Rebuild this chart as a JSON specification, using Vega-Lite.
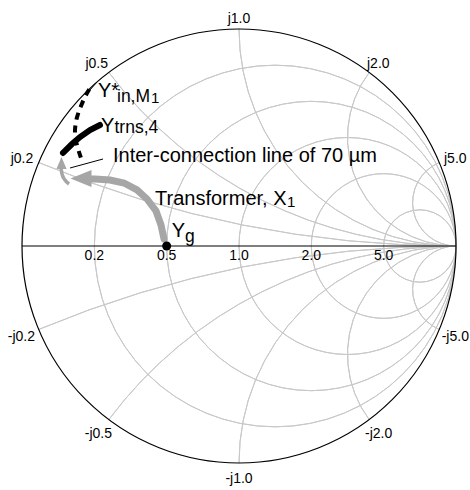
{
  "$schema": "https://vega.github.io/schema/vega-lite/v6.json",
  "width": 434,
  "height": 434,
  "autosize": {"type": "none"},
  "padding": {"left": 22, "top": 29, "right": 14, "bottom": 27},
  "background": "white",
  "config": {"view": {"stroke": null}},
  "datasets": {
    "grid": [
      {"cu": 0.1667, "cv": 0, "rad": 0.8333, "t1": 0, "t2": 360},
      {"cu": 0.3333, "cv": 0, "rad": 0.6667, "t1": 0, "t2": 360},
      {"cu": 0.5, "cv": 0, "rad": 0.5, "t1": 0, "t2": 360},
      {"cu": 0.6667, "cv": 0, "rad": 0.3333, "t1": 0, "t2": 360},
      {"cu": 0.8333, "cv": 0, "rad": 0.1667, "t1": 0, "t2": 360},
      {"cu": 1, "cv": 5, "rad": 5, "t1": 180, "t2": 202.62},
      {"cu": 1, "cv": 2, "rad": 2, "t1": 180, "t2": 233.13},
      {"cu": 1, "cv": 1, "rad": 1, "t1": 180, "t2": 270},
      {"cu": 1, "cv": 0.5, "rad": 0.5, "t1": 180, "t2": 306.87},
      {"cu": 1, "cv": 0.2, "rad": 0.2, "t1": 180, "t2": 337.38},
      {"cu": 1, "cv": -5, "rad": 5, "t1": -22.62, "t2": 0},
      {"cu": 1, "cv": -2, "rad": 2, "t1": -53.13, "t2": 0},
      {"cu": 1, "cv": -1, "rad": 1, "t1": -90, "t2": 0},
      {"cu": 1, "cv": -0.5, "rad": 0.5, "t1": -126.87, "t2": 0},
      {"cu": 1, "cv": -0.2, "rad": 0.2, "t1": -157.38, "t2": 0}
    ],
    "boundary": [{"cu": 0, "cv": 0, "rad": 1, "t1": 0, "t2": 360}],
    "axisline": [{"u1": -1, "u2": 1, "v": 0}],
    "transformer": [
      {"i": 0, "u": -0.3456, "v": 0.0323},
      {"i": 1, "u": -0.3594, "v": 0.0968},
      {"i": 2, "u": -0.3825, "v": 0.1613},
      {"i": 3, "u": -0.424, "v": 0.2166},
      {"i": 4, "u": -0.47, "v": 0.2581},
      {"i": 5, "u": -0.53, "v": 0.2903},
      {"i": 6, "u": -0.5945, "v": 0.3041},
      {"i": 7, "u": -0.6636, "v": 0.3088},
      {"i": 8, "u": -0.7051, "v": 0.3088}
    ],
    "transformerHead": [{"u": -0.7281, "v": 0.3111}],
    "interconn": [
      {"i": 0, "u": -0.7834, "v": 0.2857},
      {"i": 1, "u": -0.8018, "v": 0.3041},
      {"i": 2, "u": -0.8157, "v": 0.3318},
      {"i": 3, "u": -0.8203, "v": 0.3594}
    ],
    "interconnHead": [{"u": -0.818, "v": 0.3825}],
    "ytrns": [
      {"i": 0, "u": -0.8111, "v": 0.4286},
      {"i": 1, "u": -0.7696, "v": 0.47},
      {"i": 2, "u": -0.7327, "v": 0.5023},
      {"i": 3, "u": -0.6866, "v": 0.5346},
      {"i": 4, "u": -0.6406, "v": 0.5576}
    ],
    "yin": [
      {"i": 0, "u": -0.69, "v": 0.722},
      {"i": 1, "u": -0.7097, "v": 0.6866},
      {"i": 2, "u": -0.7281, "v": 0.6452},
      {"i": 3, "u": -0.7419, "v": 0.6083},
      {"i": 4, "u": -0.7512, "v": 0.5714},
      {"i": 5, "u": -0.7558, "v": 0.5346},
      {"i": 6, "u": -0.7558, "v": 0.5023},
      {"i": 7, "u": -0.7465, "v": 0.4654},
      {"i": 8, "u": -0.7373, "v": 0.4332},
      {"i": 9, "u": -0.7281, "v": 0.4055}
    ],
    "leaders": [
      {"k": "a", "i": 0, "u": -0.7788, "v": 0.3594},
      {"k": "a", "i": 1, "u": -0.6267, "v": 0.4009},
      {"k": "b", "i": 0, "u": -0.6866, "v": 0.7189},
      {"k": "b", "i": 1, "u": -0.6544, "v": 0.7558}
    ],
    "yg": [{"u": -0.3333, "v": 0}],
    "ticksCenter": [
      {"u": 0, "v": 1.029, "label": "j1.0"},
      {"u": 0, "v": -1.0922, "label": "-j1.0"},
      {"u": -0.6667, "v": -0.0668, "label": "0.2"},
      {"u": -0.3333, "v": -0.0668, "label": "0.5"},
      {"u": 0, "v": -0.0668, "label": "1.0"},
      {"u": 0.3333, "v": -0.0668, "label": "2.0"},
      {"u": 0.6667, "v": -0.0668, "label": "5.0"}
    ],
    "ticksRight": [
      {"u": -0.6037, "v": 0.8203, "label": "j0.5"},
      {"u": -0.9479, "v": 0.3825, "label": "j0.2"},
      {"u": -0.9401, "v": -0.4378, "label": "-j0.2"},
      {"u": -0.5853, "v": -0.8848, "label": "-j0.5"}
    ],
    "ticksLeft": [
      {"u": 0.5899, "v": 0.8203, "label": "j2.0"},
      {"u": 0.9447, "v": 0.3825, "label": "j5.0"},
      {"u": 0.9341, "v": -0.4378, "label": "-j5.0"},
      {"u": 0.5806, "v": -0.8848, "label": "-j2.0"}
    ],
    "notes": [
      {"u": -0.6498, "v": 0.6866, "label": "Y*", "part": "main"},
      {"u": -0.5622, "v": 0.665, "label": "in,M", "part": "sub"},
      {"u": -0.4055, "v": 0.6576, "label": "1", "part": "sub2"},
      {"u": -0.6359, "v": 0.5267, "label": "Y", "part": "main"},
      {"u": -0.5737, "v": 0.5207, "label": "trns,4", "part": "sub"},
      {"u": -0.5806, "v": 0.3871, "label": "Inter-connection line of 70 µm", "part": "main"},
      {"u": -0.3871, "v": 0.1889, "label": "Transformer, X", "part": "main"},
      {"u": 0.2212, "v": 0.1797, "label": "1", "part": "sub2"},
      {"u": -0.3101, "v": 0.0429, "label": "Y", "part": "main"},
      {"u": -0.2488, "v": 0.0207, "label": "g", "part": "sub"}
    ]
  },
  "layer": [
    {
      "data": {"name": "grid"},
      "mark": {"type": "arc", "filled": false, "color": "#c8c8c8", "strokeWidth": 1},
      "encoding": {
        "x": {"field": "cu", "type": "quantitative", "scale": {"domain": [-1, 1], "nice": false, "zero": false}, "axis": null},
        "y": {"field": "cv", "type": "quantitative", "scale": {"domain": [-1, 1], "nice": false, "zero": false}, "axis": null},
        "radius": {"field": "rad", "type": "quantitative", "stack": null, "scale": {"type": "linear", "domain": [0, 1], "range": [0, 217], "zero": true, "nice": false}},
        "radius2": {"field": "rad"},
        "theta": {"field": "t1", "type": "quantitative", "stack": null, "scale": {"type": "linear", "domain": [0, 360], "range": [0, 6.283185307], "zero": false, "nice": false}},
        "theta2": {"field": "t2"}
      }
    },
    {
      "data": {"name": "boundary"},
      "mark": {"type": "arc", "filled": false, "color": "black", "strokeWidth": 1.2},
      "encoding": {
        "x": {"field": "cu", "type": "quantitative", "scale": {"domain": [-1, 1], "nice": false, "zero": false}, "axis": null},
        "y": {"field": "cv", "type": "quantitative", "scale": {"domain": [-1, 1], "nice": false, "zero": false}, "axis": null},
        "radius": {"field": "rad", "type": "quantitative", "stack": null, "scale": {"type": "linear", "domain": [0, 1], "range": [0, 217], "zero": true, "nice": false}},
        "radius2": {"field": "rad"},
        "theta": {"field": "t1", "type": "quantitative", "stack": null, "scale": {"type": "linear", "domain": [0, 360], "range": [0, 6.283185307], "zero": false, "nice": false}},
        "theta2": {"field": "t2"}
      }
    },
    {
      "data": {"name": "axisline"},
      "mark": {"type": "rule", "color": "black", "strokeWidth": 1.2},
      "encoding": {
        "x": {"field": "u1", "type": "quantitative", "scale": {"domain": [-1, 1], "nice": false, "zero": false}, "axis": null},
        "x2": {"field": "u2"},
        "y": {"field": "v", "type": "quantitative", "scale": {"domain": [-1, 1], "nice": false, "zero": false}, "axis": null}
      }
    },
    {
      "data": {"name": "transformer"},
      "mark": {"type": "line", "color": "#a6a6a6", "strokeWidth": 7, "strokeCap": "round"},
      "encoding": {
        "x": {"field": "u", "type": "quantitative", "scale": {"domain": [-1, 1], "nice": false, "zero": false}, "axis": null},
        "y": {"field": "v", "type": "quantitative", "scale": {"domain": [-1, 1], "nice": false, "zero": false}, "axis": null},
        "order": {"field": "i", "type": "quantitative"}
      }
    },
    {
      "data": {"name": "transformerHead"},
      "mark": {"type": "point", "shape": "M-1,0L1,-0.8L1,0.8Z", "filled": true, "color": "#a6a6a6", "opacity": 1, "size": 441, "strokeWidth": 0},
      "encoding": {
        "x": {"field": "u", "type": "quantitative", "scale": {"domain": [-1, 1], "nice": false, "zero": false}, "axis": null},
        "y": {"field": "v", "type": "quantitative", "scale": {"domain": [-1, 1], "nice": false, "zero": false}, "axis": null}
      }
    },
    {
      "data": {"name": "interconn"},
      "mark": {"type": "line", "color": "#a6a6a6", "strokeWidth": 3.5, "interpolate": "monotone"},
      "encoding": {
        "x": {"field": "u", "type": "quantitative", "scale": {"domain": [-1, 1], "nice": false, "zero": false}, "axis": null},
        "y": {"field": "v", "type": "quantitative", "scale": {"domain": [-1, 1], "nice": false, "zero": false}, "axis": null},
        "order": {"field": "i", "type": "quantitative"}
      }
    },
    {
      "data": {"name": "interconnHead"},
      "mark": {"type": "point", "shape": "M0,-1L0.85,1L-0.85,1Z", "filled": true, "color": "#a6a6a6", "opacity": 1, "size": 144, "strokeWidth": 0},
      "encoding": {
        "x": {"field": "u", "type": "quantitative", "scale": {"domain": [-1, 1], "nice": false, "zero": false}, "axis": null},
        "y": {"field": "v", "type": "quantitative", "scale": {"domain": [-1, 1], "nice": false, "zero": false}, "axis": null}
      }
    },
    {
      "data": {"name": "ytrns"},
      "mark": {"type": "line", "color": "black", "strokeWidth": 6, "strokeCap": "round"},
      "encoding": {
        "x": {"field": "u", "type": "quantitative", "scale": {"domain": [-1, 1], "nice": false, "zero": false}, "axis": null},
        "y": {"field": "v", "type": "quantitative", "scale": {"domain": [-1, 1], "nice": false, "zero": false}, "axis": null},
        "order": {"field": "i", "type": "quantitative"}
      }
    },
    {
      "data": {"name": "yin"},
      "mark": {"type": "line", "color": "black", "strokeWidth": 4, "strokeDash": [7, 6], "interpolate": "monotone"},
      "encoding": {
        "x": {"field": "u", "type": "quantitative", "scale": {"domain": [-1, 1], "nice": false, "zero": false}, "axis": null},
        "y": {"field": "v", "type": "quantitative", "scale": {"domain": [-1, 1], "nice": false, "zero": false}, "axis": null},
        "order": {"field": "i", "type": "quantitative"}
      }
    },
    {
      "data": {"name": "leaders"},
      "mark": {"type": "line", "color": "black", "strokeWidth": 1},
      "encoding": {
        "x": {"field": "u", "type": "quantitative", "scale": {"domain": [-1, 1], "nice": false, "zero": false}, "axis": null},
        "y": {"field": "v", "type": "quantitative", "scale": {"domain": [-1, 1], "nice": false, "zero": false}, "axis": null},
        "detail": {"field": "k", "type": "nominal"},
        "order": {"field": "i", "type": "quantitative"}
      }
    },
    {
      "data": {"name": "yg"},
      "mark": {"type": "point", "shape": "circle", "filled": true, "color": "black", "opacity": 1, "size": 81},
      "encoding": {
        "x": {"field": "u", "type": "quantitative", "scale": {"domain": [-1, 1], "nice": false, "zero": false}, "axis": null},
        "y": {"field": "v", "type": "quantitative", "scale": {"domain": [-1, 1], "nice": false, "zero": false}, "axis": null}
      }
    },
    {
      "data": {"name": "ticksCenter"},
      "mark": {"type": "text", "align": "center", "baseline": "alphabetic", "font": "Liberation Sans", "fontSize": 14, "color": "black"},
      "encoding": {
        "x": {"field": "u", "type": "quantitative", "scale": {"domain": [-1, 1], "nice": false, "zero": false}, "axis": null},
        "y": {"field": "v", "type": "quantitative", "scale": {"domain": [-1, 1], "nice": false, "zero": false}, "axis": null},
        "text": {"field": "label"}
      }
    },
    {
      "data": {"name": "ticksRight"},
      "mark": {"type": "text", "align": "right", "baseline": "alphabetic", "font": "Liberation Sans", "fontSize": 14, "color": "black"},
      "encoding": {
        "x": {"field": "u", "type": "quantitative", "scale": {"domain": [-1, 1], "nice": false, "zero": false}, "axis": null},
        "y": {"field": "v", "type": "quantitative", "scale": {"domain": [-1, 1], "nice": false, "zero": false}, "axis": null},
        "text": {"field": "label"}
      }
    },
    {
      "data": {"name": "ticksLeft"},
      "mark": {"type": "text", "align": "left", "baseline": "alphabetic", "font": "Liberation Sans", "fontSize": 14, "color": "black"},
      "encoding": {
        "x": {"field": "u", "type": "quantitative", "scale": {"domain": [-1, 1], "nice": false, "zero": false}, "axis": null},
        "y": {"field": "v", "type": "quantitative", "scale": {"domain": [-1, 1], "nice": false, "zero": false}, "axis": null},
        "text": {"field": "label"}
      }
    },
    {
      "data": {"name": "notes"},
      "mark": {"type": "text", "align": "left", "baseline": "alphabetic", "font": "Liberation Sans", "color": "black"},
      "encoding": {
        "x": {"field": "u", "type": "quantitative", "scale": {"domain": [-1, 1], "nice": false, "zero": false}, "axis": null},
        "y": {"field": "v", "type": "quantitative", "scale": {"domain": [-1, 1], "nice": false, "zero": false}, "axis": null},
        "text": {"field": "label"},
        "size": {"field": "part", "type": "ordinal", "scale": {"domain": ["main", "sub", "sub2"], "range": [20, 15, 10]}, "legend": null}
      }
    }
  ]
}
